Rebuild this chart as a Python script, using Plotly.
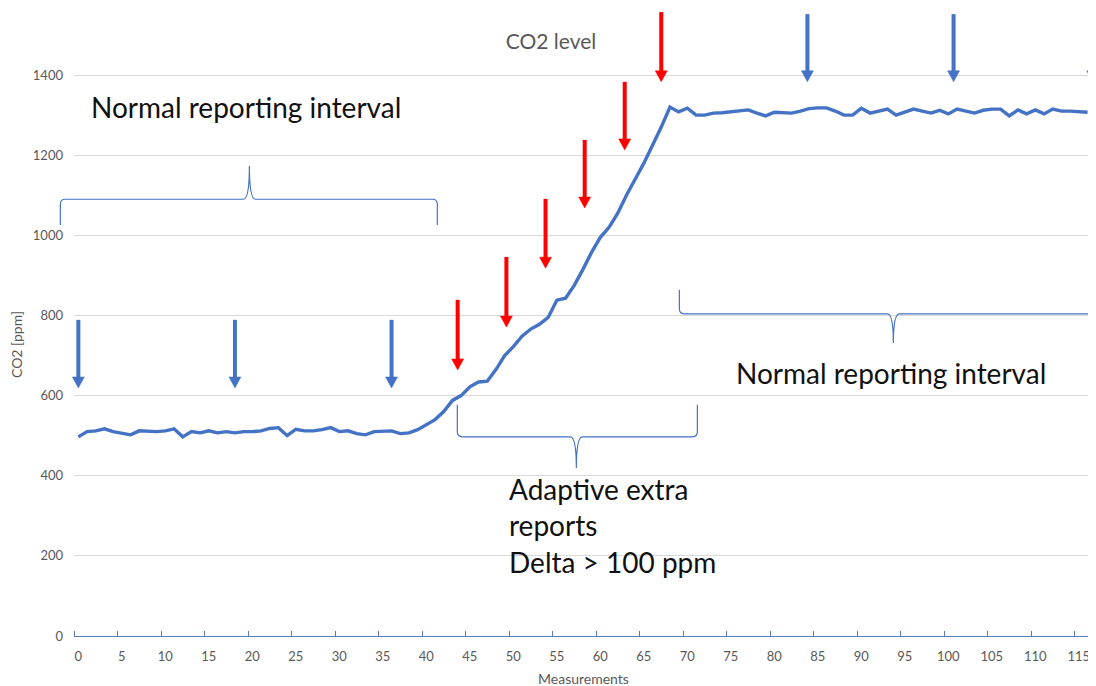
import plotly.graph_objects as go

# ---------------- data ----------------
measurements = list(range(0, 117))
co2_ppm = [
    497, 510, 512, 517, 510, 505, 502, 512, 510, 510,
    512, 517, 497, 510, 507, 512, 507, 510, 507, 510,
    510, 512, 518, 520, 500, 516, 512, 512, 515, 520,
    510, 512, 505, 502, 510, 510, 512, 505, 507, 515,
    528, 540, 560, 588, 600, 622, 634, 636, 665, 700,
    722, 748, 766, 778, 795, 838, 843, 875, 915, 958,
    995, 1020, 1055, 1100, 1140, 1180, 1225, 1270, 1320, 1308,
    1317, 1300, 1300, 1305, 1306, 1308, 1312, 1313, 1305, 1298,
    1307, 1306, 1305, 1310, 1316, 1318, 1318, 1310, 1300, 1300,
    1317, 1305, 1310, 1315, 1300, 1308, 1315, 1310, 1305, 1312,
    1303, 1315, 1310, 1305, 1312, 1315, 1315, 1298, 1313, 1303,
    1313, 1303, 1315, 1310, 1310, 1308, 1307,
]
x_tick_vals = list(range(0, 120, 5))
y_tick_vals = [0, 200, 400, 600, 800, 1000, 1200, 1400]

# report markers (measurement index, arrow top ppm, arrow tip ppm)
regular_reports = [(0.0, 789, 619), (18.0, 789, 619), (36.0, 789, 619),
                   (83.8, 1552, 1383), (100.6, 1552, 1383), (116.6, 1552, 1383)]
extra_reports = [(43.6, 839, 664), (49.2, 946, 771), (53.7, 1091, 918),
                 (58.2, 1238, 1068), (62.8, 1383, 1213), (67.0, 1557, 1383)]

# braces: (x start, x end, x middle, baseline ppm, end ppm, tip ppm)
braces = [(-2.07, 41.26, 19.66, 1090, 1026, 1173),
          (43.56, 71.15, 57.24, 497, 577, 419),
          (69.08, 119.0, 93.68, 804, 864, 731)]

# ---------------- layout geometry ----------------
OFF = 8  # page body margin
W, H = 1096, 686
ML, MR, MT, MB = 66, 8, 0, 58
PW, PH = W - ML - MR, H - MT - MB
UNIT_PX = 8.7
PPM_PX = 0.4007
XR = [-0.5, -0.5 + PW / UNIT_PX]
YR = [0, (636 - OFF) / PPM_PX]

BLUE = "#4472C4"
RED = "#FF0000"
GREY = "#595959"
FONT = "Lato"


def px(x):
    return (x - XR[0]) / (XR[1] - XR[0])


def py(y):
    return (y - YR[0]) / (YR[1] - YR[0])


def brace_path(xa, xb, xm, yb, ye, yp):
    rx = 5.0 / PW
    ry = 5.0 / PH
    s_end = 1 if ye > yb else -1
    XA, XB, XM = px(xa), px(xb), px(xm)
    YB, YE, YP = py(yb), py(ye), py(yp)
    return (f"M{XA},{YE} L{XA},{YB + s_end * ry} Q{XA},{YB} {XA + rx},{YB} "
            f"L{XM - rx * 1.2},{YB} Q{XM},{YB} {XM},{YP} "
            f"Q{XM},{YB} {XM + rx * 1.2},{YB} "
            f"L{XB - rx},{YB} Q{XB},{YB} {XB},{YB + s_end * ry} L{XB},{YE}")


fig = go.Figure()
fig.add_trace(go.Scatter(x=measurements, y=co2_ppm, mode="lines",
                         line=dict(color=BLUE, width=3.4), showlegend=False,
                         hoverinfo="skip"))

shapes = []
for b in braces:
    shapes.append(dict(type="path", xref="paper", yref="paper",
                       path=brace_path(*b), line=dict(color=BLUE, width=1.2)))

head_w = 6.0 / PW
head_l = 11.0 / PH
for reports, col in ((regular_reports, BLUE), (extra_reports, RED)):
    for (xm, ytop, ytip) in reports:
        X = px(xm)
        shapes.append(dict(type="line", xref="paper", yref="paper",
                           x0=X, x1=X, y0=py(ytop), y1=py(ytip) + head_l * 0.8,
                           line=dict(color=col, width=4)))
        shapes.append(dict(type="path", xref="paper", yref="paper",
                           path=f"M{X - head_w},{py(ytip) + head_l} L{X + head_w},{py(ytip) + head_l} L{X},{py(ytip)} Z",
                           fillcolor=col, line=dict(color=col, width=0.5)))

annotations = [
    dict(text="Normal reporting interval", x=px(1.25), y=py(1320), xref="paper", yref="paper",
         xanchor="left", yanchor="middle", showarrow=False,
         font=dict(family=FONT, size=28, color="#111111")),
    dict(text="Normal reporting interval", x=px(75.35), y=py(656), xref="paper", yref="paper",
         xanchor="left", yanchor="middle", showarrow=False,
         font=dict(family=FONT, size=28, color="#111111")),
    dict(text="Adaptive extra<br>reports<br>Delta > 100 ppm", x=px(49.25), y=py(277),
         xref="paper", yref="paper", xanchor="left", yanchor="middle", align="left",
         showarrow=False, font=dict(family=FONT, size=28, color="#111111")),
    dict(text="Measurements", x=(583 - 74) / PW, y=-(678 - 636) / PH, xref="paper", yref="paper",
         xanchor="center", yanchor="middle", showarrow=False,
         font=dict(family=FONT, size=14, color=GREY)),
    dict(text="CO2 [ppm]", x=(17 - 74) / PW, y=(636 - 345) / PH, xref="paper", yref="paper",
         xanchor="center", yanchor="middle", showarrow=False, textangle=-90,
         font=dict(family=FONT, size=14, color=GREY)),
]

fig.update_layout(
    width=W, height=H,
    margin=dict(l=ML, r=MR, t=MT, b=MB, pad=0),
    paper_bgcolor="white", plot_bgcolor="white",
    title=dict(text="CO2 level", x=(551 - OFF) / W, y=1 - (42 - OFF) / H,
               xref="container", yref="container",
               xanchor="center", yanchor="middle",
               font=dict(family=FONT, size=21, color=GREY)),
    xaxis=dict(range=XR, tickvals=x_tick_vals, ticktext=[str(v) for v in x_tick_vals],
               ticks="", showgrid=False, zeroline=False,
               showline=True, linecolor="#5A7BB8", linewidth=1.2,
               ticklabelstandoff=8,
               tickfont=dict(family=FONT, size=13, color=GREY),
               minor=dict(tick0=-0.5, dtick=5, ticks="inside", ticklen=5,
                          tickcolor="#5A7BB8", tickwidth=1, showgrid=False)),
    yaxis=dict(range=YR, tickvals=y_tick_vals, ticktext=[str(v) for v in y_tick_vals],
               ticks="", showgrid=True, gridcolor="#D9D9D9", gridwidth=1,
               zeroline=False, showline=False, ticklabelstandoff=10,
               tickfont=dict(family=FONT, size=13, color=GREY)),
    shapes=shapes,
    annotations=annotations,
)

fig.write_html("out.html")
